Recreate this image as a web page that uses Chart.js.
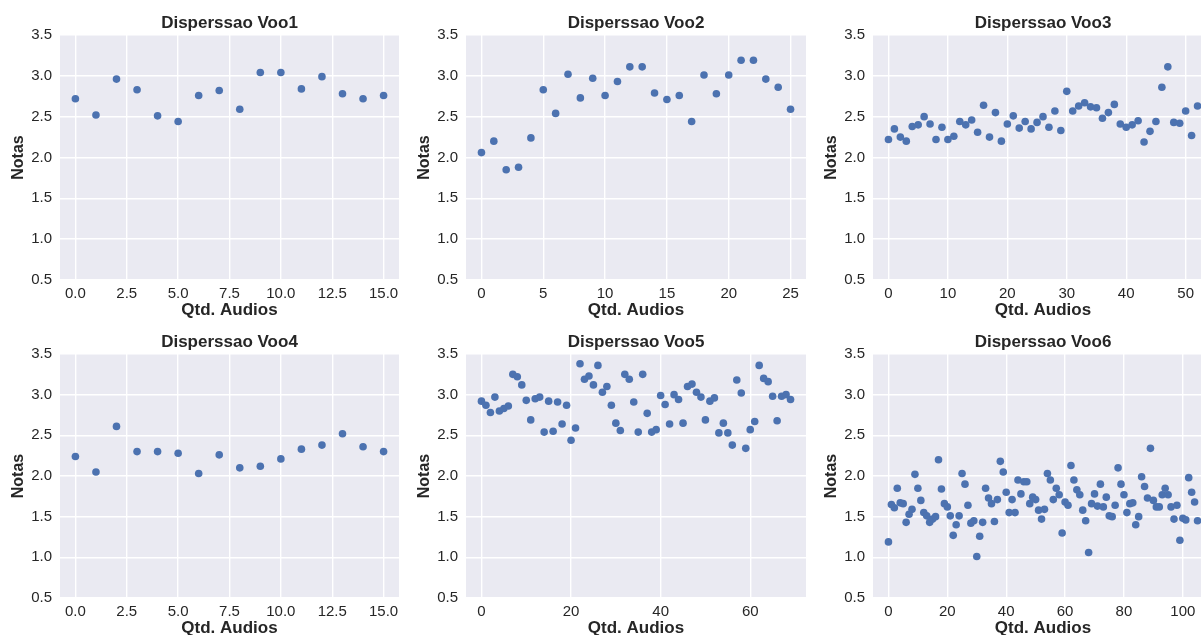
<!DOCTYPE html>
<html>
<head>
<meta charset="utf-8">
<script src="https://cdn.jsdelivr.net/npm/chart.js@4.4.1/dist/chart.umd.min.js"></script>
<style>
  html, body { margin: 0; padding: 0; background: #fff; }
  #wrap { position: relative; width: 1201px; height: 635px; overflow: hidden; }
  #wrap canvas { position: absolute; }
</style>
</head>
<body>
<div id="wrap"></div>
<script>
'use strict';

// notas por audio
var voo1 = [2.72, 2.52, 2.96, 2.83, 2.51, 2.44, 2.76, 2.82, 2.59, 3.04, 3.04, 2.84, 2.99, 2.78, 2.72, 2.76];
var voo2 = [2.06, 2.20, 1.85, 1.88, 2.24, 2.83, 2.54, 3.02, 2.73, 2.97, 2.76, 2.93, 3.11, 3.11, 2.79, 2.71,
  2.76, 2.44, 3.01, 2.78, 3.01, 3.19, 3.19, 2.96, 2.86, 2.59];
var voo3 = [2.22, 2.35, 2.25, 2.20, 2.38, 2.40, 2.50, 2.41, 2.22, 2.37, 2.22, 2.26, 2.44, 2.40, 2.46, 2.31,
  2.64, 2.25, 2.55, 2.20, 2.41, 2.51, 2.36, 2.44, 2.35, 2.43, 2.50, 2.37, 2.57, 2.33, 2.81, 2.57, 2.63, 2.67,
  2.62, 2.61, 2.48, 2.55, 2.65, 2.41, 2.37, 2.40, 2.45, 2.19, 2.32, 2.44, 2.86, 3.11, 2.43, 2.42, 2.57, 2.27, 2.63];
var voo4 = [2.24, 2.05, 2.61, 2.30, 2.30, 2.28, 2.03, 2.26, 2.10, 2.12, 2.21, 2.33, 2.38, 2.52, 2.36, 2.30];
var voo5 = [2.92, 2.87, 2.78, 2.97, 2.80, 2.83, 2.86, 3.25, 3.22, 3.12, 2.93, 2.69, 2.95, 2.97, 2.54, 2.92,
  2.55, 2.91, 2.64, 2.87, 2.44, 2.59, 3.38, 3.19, 3.23, 3.12, 3.36, 3.03, 3.10, 2.87, 2.65, 2.56, 3.25, 3.19,
  2.91, 2.54, 3.25, 2.77, 2.54, 2.57, 2.99, 2.88, 2.64, 3.00, 2.94, 2.65, 3.10, 3.13, 3.03, 2.97, 2.69, 2.92,
  2.96, 2.53, 2.65, 2.53, 2.38, 3.18, 3.02, 2.34, 2.57, 2.67, 3.36, 3.20, 3.16, 2.98, 2.68, 2.98, 3.00, 2.94];
var voo6 = [1.19, 1.65, 1.61, 1.85, 1.67, 1.66, 1.43, 1.53, 1.59, 2.02,
  1.85, 1.70, 1.55, 1.51, 1.43, 1.47, 1.50, 2.20, 1.84, 1.66,
  1.62, 1.51, 1.27, 1.40, 1.51, 2.03, 1.90, 1.64, 1.42, 1.45,
  1.01, 1.26, 1.43, 1.85, 1.73, 1.66, 1.44, 1.71, 2.18, 2.05,
  1.80, 1.55, 1.71, 1.55, 1.95, 1.78, 1.93, 1.93, 1.66, 1.74,
  1.71, 1.58, 1.47, 1.59, 2.03, 1.95, 1.71, 1.85, 1.77, 1.30,
  1.68, 1.64, 2.13, 1.95, 1.83, 1.77, 1.58, 1.45, 1.06, 1.66,
  1.78, 1.63, 1.90, 1.62, 1.74, 1.51, 1.50, 1.64, 2.10, 1.90,
  1.77, 1.55, 1.66, 1.67, 1.40, 1.50, 1.99, 1.87, 1.73, 2.34,
  1.70, 1.62, 1.62, 1.77, 1.85, 1.77, 1.62, 1.47, 1.64, 1.21,
  1.48, 1.46, 1.98, 1.80, 1.68, 1.45];

var titulos = ['Disperssao Voo1', 'Disperssao Voo2', 'Disperssao Voo3', 'Disperssao Voo4', 'Disperssao Voo5', 'Disperssao Voo6'];
var yTicks = [0.5, 1.0, 1.5, 2.0, 2.5, 3.0, 3.5];
var xTicks15 = [0, 2.5, 5, 7.5, 10, 12.5, 15];
var xTicks25 = [0, 5, 10, 15, 20, 25];
var xTicks50 = [0, 10, 20, 30, 40, 50];
var xTicks100 = [0, 20, 40, 60, 80, 100];
var xTicks60 = [0, 20, 40, 60];

var FONT = "'Liberation Sans', Arial, sans-serif";
var TXT = '#262626';

// posicao da area de plotagem de cada coluna / linha
var colLeft = [60, 466, 873];
var colWidth = [339, 340, 340];
var rowTop = [35, 354];
var rowHeight = [245, 244];
var Y_AXIS_W = 60, TITLE_H = 35, X_AXIS_H = 42, RIGHT_PAD = 8;

var panels = [
  { values: voo1, xTicks: xTicks15, dec: 1, col: 0, row: 0 },
  { values: voo2, xTicks: xTicks25, dec: 0, col: 1, row: 0 },
  { values: voo3, xTicks: xTicks50, dec: 0, col: 2, row: 0 },
  { values: voo4, xTicks: xTicks15, dec: 1, col: 0, row: 1 },
  { values: voo5, xTicks: xTicks60, dec: 0, col: 1, row: 1 },
  { values: voo6, xTicks: xTicks100, dec: 0, col: 2, row: 1 }
];

var plotBg = {
  id: 'plotBg',
  beforeDraw: function (chart) {
    var a = chart.chartArea, ctx = chart.ctx;
    ctx.save();
    ctx.fillStyle = '#EAEAF2';
    ctx.fillRect(a.left, a.top, a.right - a.left, a.bottom - a.top);
    ctx.restore();
  }
};

var wrap = document.getElementById('wrap');

panels.forEach(function (p, i) {
  var canvas = document.createElement('canvas');
  var w = Y_AXIS_W + colWidth[p.col] + RIGHT_PAD;
  var h = TITLE_H + rowHeight[p.row] + X_AXIS_H;
  canvas.width = w;
  canvas.height = h;
  canvas.style.width = w + 'px';
  canvas.style.height = h + 'px';
  canvas.style.left = (colLeft[p.col] - Y_AXIS_W) + 'px';
  canvas.style.top = (rowTop[p.row] - TITLE_H) + 'px';
  wrap.appendChild(canvas);

  var n = p.values.length - 1;
  var pts = p.values.map(function (v, k) { return { x: k, y: v }; });

  new Chart(canvas.getContext('2d'), {
    type: 'scatter',
    data: {
      datasets: [{
        data: pts,
        backgroundColor: '#4C72B0',
        borderWidth: 0,
        pointRadius: 3.8,
        pointHoverRadius: 3.8
      }]
    },
    options: {
      responsive: false,
      animation: false,
      layout: { padding: { left: 0, right: RIGHT_PAD, top: 0, bottom: 0 } },
      plugins: {
        legend: { display: false },
        tooltip: { enabled: false },
        title: {
          display: true,
          text: titulos[i],
          fullSize: false,
          color: TXT,
          font: { family: FONT, size: 17, weight: 'bold', lineHeight: 1.25 },
          padding: { top: 12.5, bottom: 1.25 }
        }
      },
      scales: {
        x: {
          type: 'linear',
          min: -0.05 * n,
          max: 1.05 * n,
          afterBuildTicks: function (s) { s.ticks = p.xTicks.map(function (v) { return { value: v }; }); },
          afterFit: function (s) { s.height = X_AXIS_H; },
          grid: { color: '#ffffff', lineWidth: 1.4, drawTicks: false },
          border: { display: false },
          ticks: {
            padding: 5,
            color: TXT,
            font: { family: FONT, size: 15 },
            maxRotation: 0,
            autoSkip: false,
            callback: function (v) { return Number(v).toFixed(p.dec); }
          },
          title: {
            display: true,
            text: 'Qtd. Audios',
            color: TXT,
            font: { family: FONT, size: 17, weight: 'bold' },
            padding: { top: 0, bottom: 1.8 }
          }
        },
        y: {
          type: 'linear',
          min: 0.5,
          max: 3.5,
          afterBuildTicks: function (s) { s.ticks = yTicks.map(function (v) { return { value: v }; }); },
          afterFit: function (s) { s.width = Y_AXIS_W; },
          grid: { color: '#ffffff', lineWidth: 1.4, drawTicks: false },
          border: { display: false },
          ticks: {
            padding: 8,
            color: TXT,
            font: { family: FONT, size: 15 },
            autoSkip: false,
            callback: function (v) { return Number(v).toFixed(1); }
          },
          title: {
            display: true,
            text: 'Notas',
            color: TXT,
            font: { family: FONT, size: 16, weight: 'bold' },
            padding: { top: 9, bottom: 0 }
          }
        }
      }
    },
    plugins: [plotBg]
  });
});
</script>
</body>
</html>
